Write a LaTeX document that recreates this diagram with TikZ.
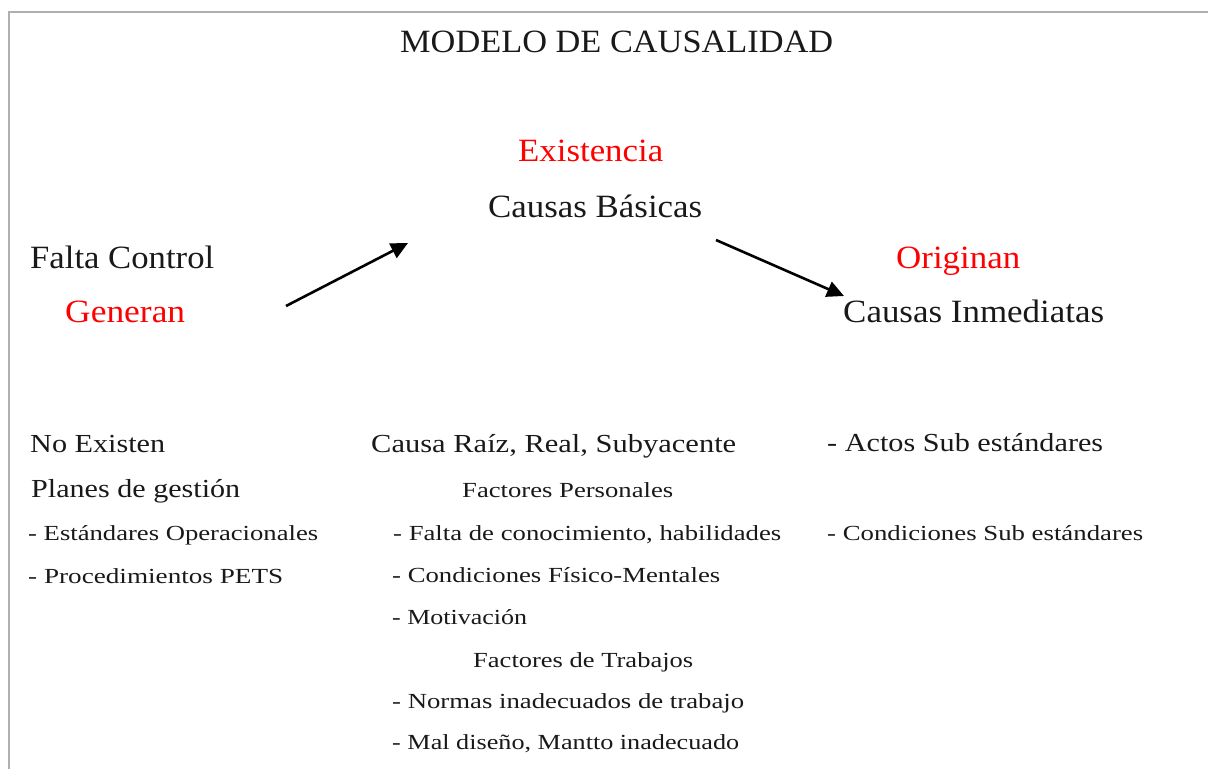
\documentclass[tikz,border=0pt]{standalone}
\usepackage{fontspec}
\setmainfont{Liberation Serif}
\usetikzlibrary{arrows.meta}
\definecolor{ink}{RGB}{25,25,25}
\definecolor{framegray}{RGB}{175,175,175}
\definecolor{hired}{RGB}{255,0,0}
\newcommand\fitto[2]{\resizebox{#1pt}{\height}{#2}}
\begin{document}
\begin{tikzpicture}[x=1pt,y=-1pt,
  txt/.style={anchor=base west,inner sep=0pt,text=ink},
  big/.style={txt,font=\fontsize{32.5}{36}\selectfont},
  mid/.style={txt,font=\fontsize{26}{30}\selectfont},
  sml/.style={txt,font=\fontsize{21.5}{25}\selectfont},
  hl/.style={text=hired},
  frame/.style={draw=framegray,line width=2pt},
  conn/.style={line width=2.6pt,draw=black,-{Triangle[length=17pt,width=16pt]}}]
\useasboundingbox (0,0) rectangle (1208,769);
\draw[frame] (8.5,769) -- (8.5,11.5) -- (1208,11.5);

\node[big] (title) at (400,52) {\fitto{433}{MODELO DE CAUSALIDAD}};
\node[big,hl] (exist) at (518,161) {\fitto{145}{Existencia}};
\node[big] (basicas) at (488,217) {\fitto{214}{Causas Básicas}};
\node[big] (falta) at (30,268) {\fitto{184}{Falta Control}};
\node[big,hl] (generan) at (65,322) {\fitto{120}{Generan}};
\node[big,hl] (originan) at (896,268) {\fitto{124}{Originan}};
\node[big] (inmed) at (843,322) {\fitto{261}{Causas Inmediatas}};

\node[mid] (noex) at (30,452) {\fitto{135}{No Existen}};
\node[mid] (raiz) at (371,452) {\fitto{365}{Causa Raíz, Real, Subyacente}};
\node[mid] (actos) at (827,451) {\fitto{276}{- Actos Sub estándares}};
\node[mid] (planes) at (31,497) {\fitto{209}{Planes de gestión}};

\node[sml] (factp) at (462,497) {\fitto{211}{Factores Personales}};
\node[sml] (estand) at (28,540) {\fitto{290}{- Estándares Operacionales}};
\node[sml] (faltac) at (393,540) {\fitto{388}{- Falta de conocimiento, habilidades}};
\node[sml] (condsub) at (827,540) {\fitto{316}{- Condiciones Sub estándares}};
\node[sml] (proc) at (28,583) {\fitto{255}{- Procedimientos PETS}};
\node[sml] (fisico) at (392,582) {\fitto{328}{- Condiciones Físico-Mentales}};
\node[sml] (motiv) at (392,624) {\fitto{135}{- Motivación}};
\node[sml] (factt) at (473,667) {\fitto{220}{Factores de Trabajos}};
\node[sml] (normas) at (392,708) {\fitto{352}{- Normas inadecuados de trabajo}};
\node[sml] (mal) at (392,749) {\fitto{347}{- Mal diseño, Mantto inadecuado}};

\coordinate (a1s) at (286,306);
\coordinate (a1e) at (408,243);
\coordinate (a2s) at (716,240);
\coordinate (a2e) at (844,296);
\draw[conn] (a1s) -- (a1e);
\draw[conn] (a2s) -- (a2e);
\end{tikzpicture}
\end{document}
